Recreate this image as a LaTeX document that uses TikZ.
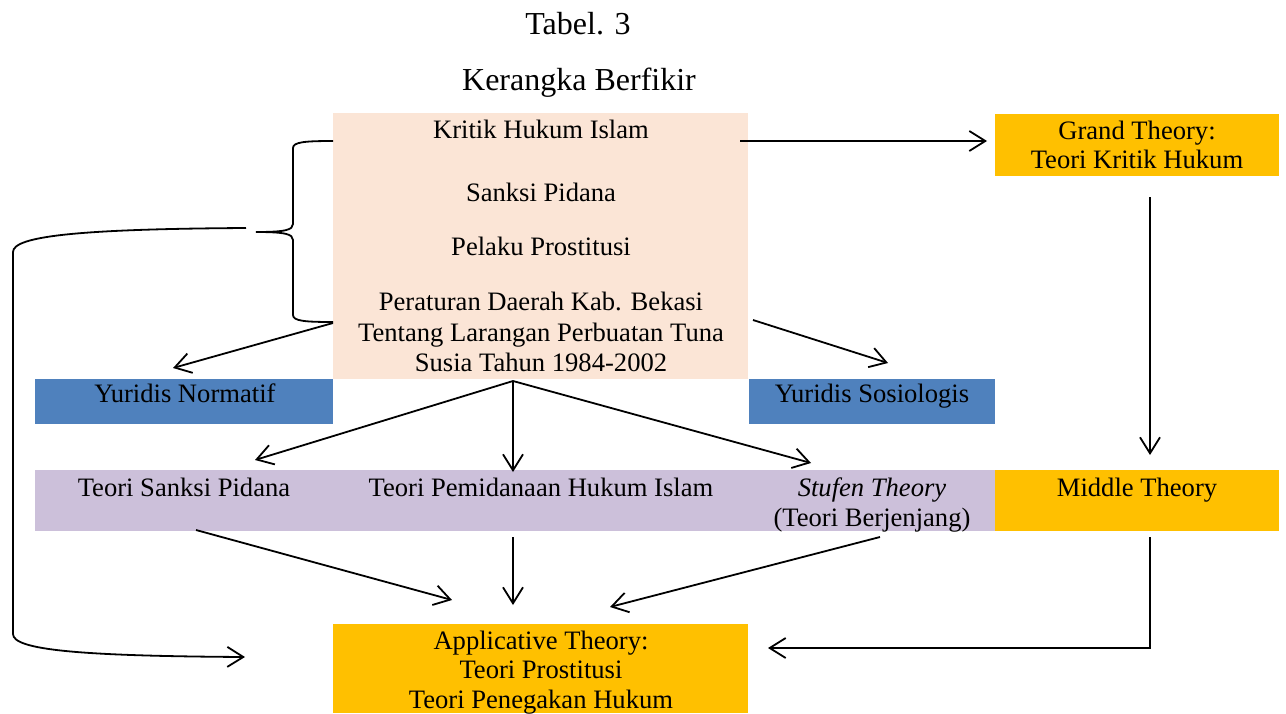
\documentclass[tikz,border=0pt]{standalone}
\usepackage{fontspec}
\setmainfont{Liberation Serif}
\usetikzlibrary{arrows.meta,fit}
\definecolor{peach}{HTML}{FBE5D6}
\definecolor{gold}{HTML}{FFC000}
\definecolor{steel}{HTML}{4F81BD}
\definecolor{lav}{HTML}{CCC0DA}
\tikzset{
  box/.style={inner sep=0pt, draw=none},
  txt/.style={anchor=base, inner sep=0pt, font=\fontsize{13.3}{16}\selectfont},
  ttl/.style={anchor=base, inner sep=0pt, font=\fontsize{16}{19}\selectfont},
  ln/.style={line width=0.9pt, black},
  arr/.style={ln, -{Straight Barb[length=8pt,width=10pt,line width=0.9pt]}}
}
\begin{document}
\begin{tikzpicture}[x=0.5pt,y=-0.5pt]
\useasboundingbox (0,0) rectangle (1286,713);
% titles
\node[ttl] (t1) at (578,34) {Tabel. 3};
\node[ttl] (t2) at (579,90) {Kerangka Berfikir};
% boxes
\node[box, fill=peach, fit={(333,113)(748,379)}] (peach) {};
\node[box, fill=gold, fit={(995,114)(1279,176)}] (grand) {};
\node[box, fill=steel, fit={(35,379)(333,424)}] (ynorm) {};
\node[box, fill=steel, fit={(749,379)(995,424)}] (ysos) {};
\node[box, fill=lav, fit={(35,470)(995,531)}] (lavbar) {};
\node[box, fill=gold, fit={(995,470)(1279,531)}] (middle) {};
\node[box, fill=gold, fit={(333,624)(748,713)}] (appl) {};
% texts
\node[txt] (p1) at (541,138) {Kritik Hukum Islam};
\node[txt] (p2) at (541,201) {Sanksi Pidana};
\node[txt] (p3) at (541,255) {Pelaku Prostitusi};
\node[txt] (p4) at (541,310) {Peraturan Daerah Kab. Bekasi};
\node[txt] (p5) at (541,341) {Tentang Larangan Perbuatan Tuna};
\node[txt] (p6) at (541,371) {Susia Tahun 1984-2002};
\node[txt] (g1) at (1137,139) {Grand Theory:};
\node[txt] (g2) at (1137,168) {Teori Kritik Hukum};
\node[txt] (yn) at (185,402) {Yuridis Normatif};
\node[txt] (ys) at (872,402) {Yuridis Sosiologis};
\node[txt] (l1) at (184,496) {Teori Sanksi Pidana};
\node[txt] (l2) at (541,496) {Teori Pemidanaan Hukum Islam};
\node[txt] (l3) at (872,496) {\itshape Stufen Theory};
\node[txt] (l4) at (872,526) {(Teori Berjenjang)};
\node[txt] (m1) at (1137,496) {Middle Theory};
\node[txt] (a1) at (541,649) {Applicative Theory:};
\node[txt] (a2) at (541,678) {Teori Prostitusi};
\node[txt] (a3) at (541,708) {Teori Penegakan Hukum};
% connector end points
\coordinate (kA) at (740,141);
\coordinate (kB) at (987,141);
\coordinate (gA) at (1150,197);
\coordinate (gB) at (1150,455);
\coordinate (mA) at (1150,537);
\coordinate (mC) at (1150,648);
\coordinate (mB) at (768,648);
\coordinate (nA) at (333,323);
\coordinate (nB) at (173,368);
\coordinate (sA) at (753,320);
\coordinate (sB) at (888,363);
\coordinate (fO) at (513,381);
\coordinate (f1) at (255,460);
\coordinate (f2) at (513,472);
\coordinate (f3) at (811,463);
\coordinate (d1) at (196,530);
\coordinate (e1) at (452,600);
\coordinate (d2) at (513,537);
\coordinate (e2) at (513,605);
\coordinate (d3) at (880,537);
\coordinate (e3) at (610,607);
\coordinate (bt) at (333,141);
\coordinate (bb) at (333,322);
\coordinate (cA) at (246,228);
\coordinate (cB) at (245,657);
% connectors
\draw[arr] (kA) -- (kB);
\draw[arr] (gA) -- (gB);
\draw[arr] (mA) -- (mC) -- (mB);
\draw[arr] (nA) -- (nB);
\draw[arr] (sA) -- (sB);
\draw[arr] (fO) -- (f1);
\draw[arr] (fO) -- (f2);
\draw[arr] (fO) -- (f3);
\draw[arr] (d1) -- (e1);
\draw[arr] (d2) -- (e2);
\draw[arr] (d3) -- (e3);
% brace
\draw[ln] (bt) .. controls (305,141) and (293,142) .. (293,148) -- (293,224)
  .. controls (293,230) and (285,232) .. (256,232)
  .. controls (285,232) and (293,234) .. (293,240) -- (293,315)
  .. controls (293,321) and (305,322) .. (bb);
% long left connector
\draw[arr] (cA) .. controls (80,229) and (13,236) .. (13,252) -- (13,634)
  .. controls (13,650) and (80,656) .. (cB);
\end{tikzpicture}
\end{document}
